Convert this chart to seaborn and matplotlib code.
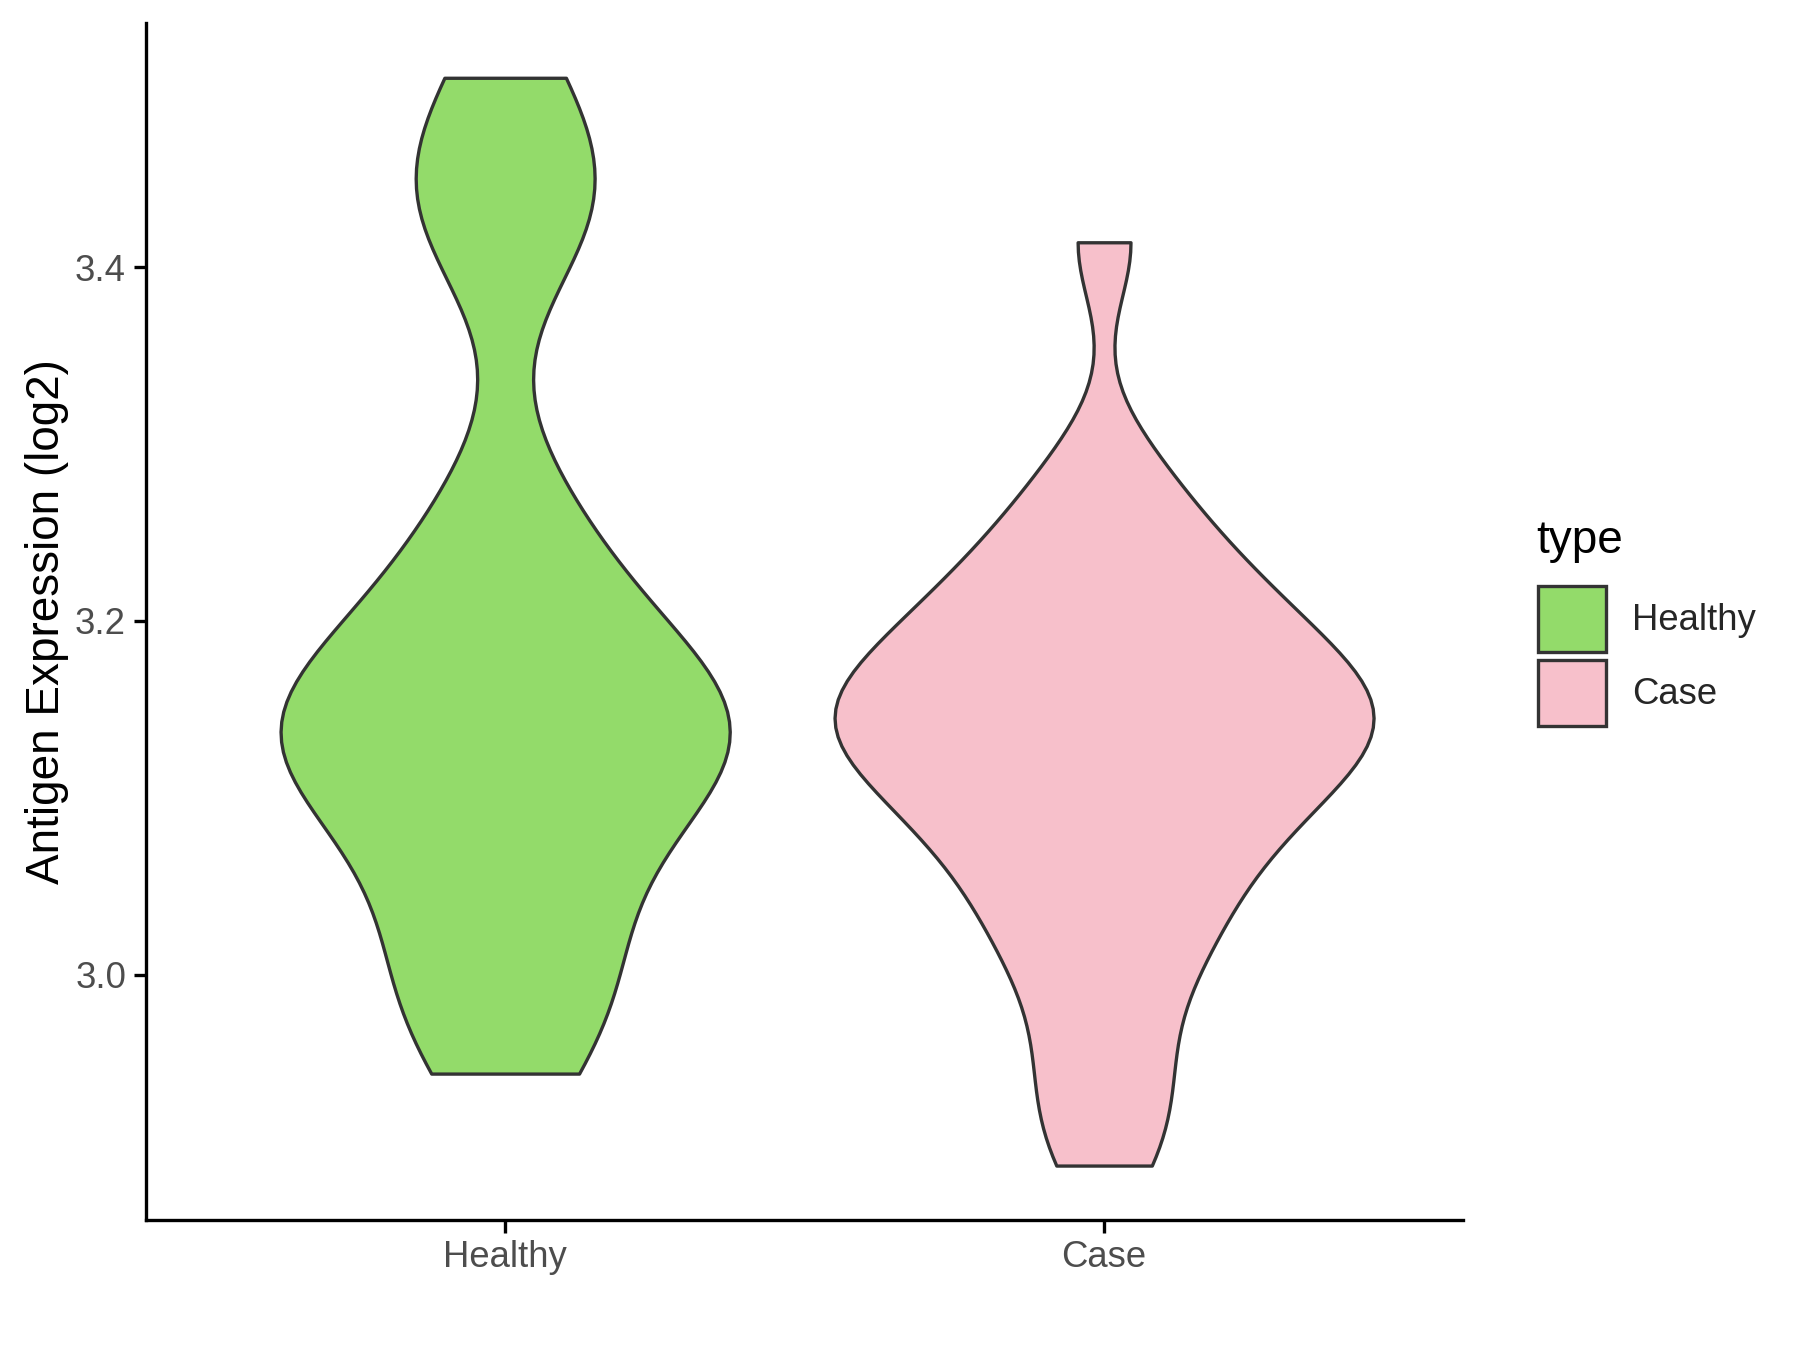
import pandas as pd
import seaborn as sns
import matplotlib.pyplot as plt
from matplotlib.patches import Patch

# values (log2 antigen expression)
healthy = [2.944, 2.975, 3.0, 3.03, 3.06, 3.09, 3.11, 3.12, 3.13, 3.14, 3.15, 3.16,
           3.18, 3.2, 3.23, 3.27, 3.41, 3.44, 3.46, 3.507]
case = [2.892, 2.925, 2.955, 2.99, 3.015, 3.03, 3.05, 3.065, 3.08, 3.09, 3.1, 3.11,
        3.12, 3.13, 3.135, 3.14, 3.15, 3.155, 3.16, 3.17, 3.18, 3.19, 3.2, 3.21,
        3.225, 3.24, 3.26, 3.29, 3.414]
groups = ['Healthy', 'Case']
colors = ['#93DB6A', '#F7C0CB']
widths = [0.75, 0.9]

df = pd.DataFrame({'type': ['Healthy'] * len(healthy) + ['Case'] * len(case),
                   'value': healthy + case})

sns.set_style('ticks')
plt.rcParams['font.family'] = ['Liberation Sans', 'DejaVu Sans']

fig = plt.figure(figsize=(12, 9), dpi=150)
ax = fig.add_axes([0.081, 0.096, 0.732, 0.887])
for g, c, w in zip(groups, colors, widths):
    sns.violinplot(data=df[df['type'] == g], x='type', y='value', order=groups,
                   color=c, cut=0, inner=None, density_norm='width', width=w,
                   bw_method=0.3, linecolor='#333333', linewidth=1.6,
                   saturation=1, ax=ax)

ax.set_xlim(-0.6, 1.6)
ax.set_ylim(2.861, 3.538)
ax.set_yticks([3.0, 3.2, 3.4])
ax.set_yticklabels(['3.0', '3.2', '3.4'])
ax.set_xlabel('')
ax.set_ylabel('Antigen Expression (log2)', fontsize=22, color='black', labelpad=3)
ax.tick_params(labelsize=17.5, labelcolor='#4D4D4D', color='black', width=1.6, length=6)
for s in ['top', 'right']:
    ax.spines[s].set_visible(False)
for s in ['left', 'bottom']:
    ax.spines[s].set_linewidth(1.6)
    ax.spines[s].set_color('black')

# legend title drawn on its own so the gap above the keys matches
fig.text(0.8533, 0.5995, 'type', fontsize=22, color='black', ha='left', va='center')
handles = [Patch(facecolor=c, edgecolor='#333333', linewidth=1.6, label=g)
           for g, c in zip(groups, colors)]
leg = fig.legend(handles=handles, loc='upper left', bbox_to_anchor=(0.8546, 0.566),
                 frameon=False, fontsize=17.5, borderpad=0, borderaxespad=0,
                 handlelength=1.85, handleheight=2.4, labelspacing=0.22,
                 handletextpad=0.72)

fig.savefig('out.png', dpi=150)
